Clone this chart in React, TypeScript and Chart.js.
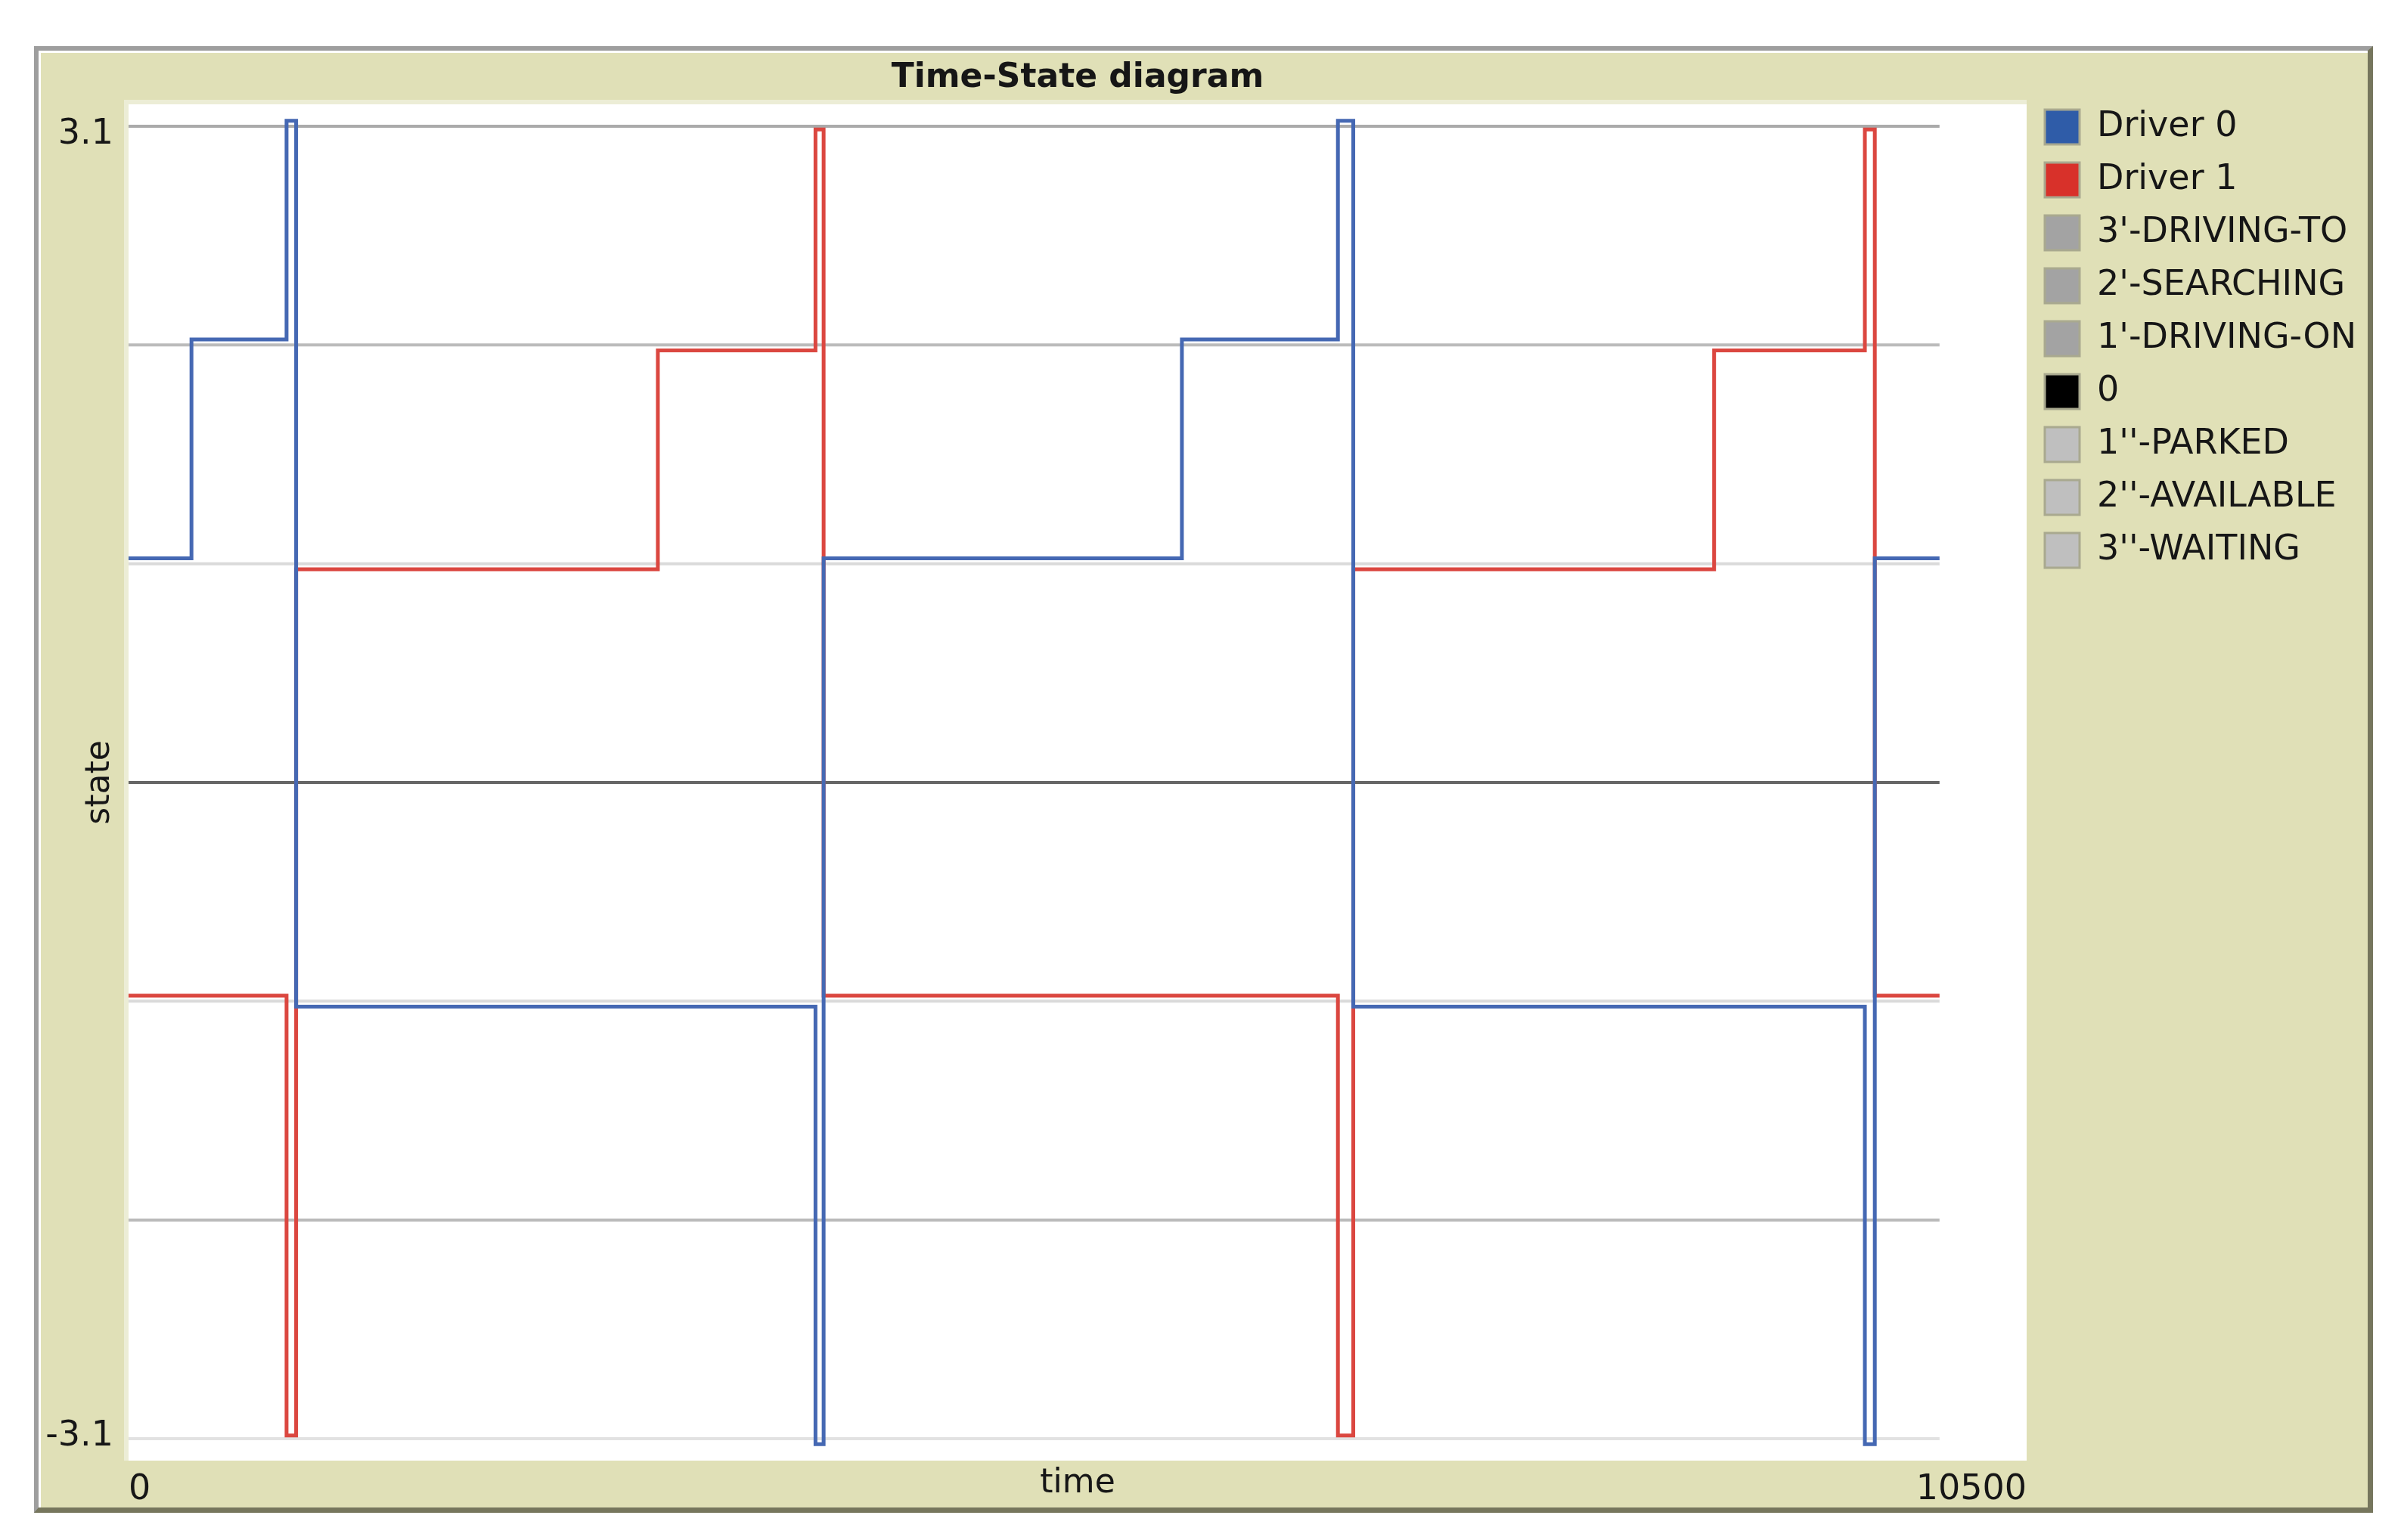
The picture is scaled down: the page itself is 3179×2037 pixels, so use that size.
import { useEffect, useRef } from 'react';
import { Chart, registerables } from 'chart.js';

Chart.register(...registerables);

// ---------- data ----------
const xRange = [0, 10500];
const yRange = [-3.1, 3.1];
const xTickValues = [0, 10500];
const yTickValues = [-3.1, 3.1];
const yTickLabels = ['-3.1', '3.1'];

const driverNames = ['Driver 0', 'Driver 1'];
const driver0Times = [0, 348, 874, 927, 3800, 3845, 5827, 6690, 6775, 9605, 9660, 10018];
const driver0States = [1.025, 2.025, 3.025, -1.025, -3.025, 1.025, 2.025, 3.025, -1.025, -3.025, 1.025, 1.025];
const driver1Times = [0, 874, 927, 2928, 3800, 3845, 6690, 6775, 8771, 9605, 9660, 10018];
const driver1States = [-0.975, -2.985, 0.975, 1.975, 2.985, -0.975, -2.985, 0.975, 1.975, 2.985, -0.975, -0.975];

const penNames = ["3'-DRIVING-TO", "2'-SEARCHING", "1'-DRIVING-ON", '0', "1''-PARKED", "2''-AVAILABLE", "3''-WAITING"];
const penLevels = [3, 2, 1, 0, -1, -2, -3];
const penTimes = [0, 10018];

// ---------- styles ----------
const FONT = "'DejaVu Sans', 'Liberation Sans', sans-serif";
const TEXT = '#161616';
const driverLineColors = ['#4568b3', '#db4740'];
const driverBoxColors = ['#2f5ca8', '#d8312a'];
const penLineColors = ['#aaaaaa', '#bbbbbb', '#dadada', '#666666', '#dadada', '#bbbbbb', '#e2e2e2'];
const penBoxColors = ['#a3a3a3', '#a3a3a3', '#a3a3a3', '#000000', '#bfbfbf', '#bfbfbf', '#bfbfbf'];
const legendBoxColors = [...driverBoxColors, ...penBoxColors];

const CANVAS_W = 3179;
const CANVAS_H = 2037;
const PLOT_RIGHT = 2680;
const LEGEND_FONT = 46;
const LEGEND_BOX = 46;
const LEGEND_PAD = 24;

const plotBackground = {
  id: 'plotBackground',
  beforeDraw(chart: any) {
    const { ctx, chartArea } = chart;
    const { left, top, right, bottom } = chartArea;
    ctx.save();
    ctx.fillStyle = '#ecedd6';
    ctx.fillRect(left - 6, top - 6, right - left + 6, bottom - top + 6);
    ctx.fillStyle = '#ffffff';
    ctx.fillRect(left, top, right - left, bottom - top);
    ctx.restore();
  },
};

function legendRightPadding(): number {
  const c = document.createElement('canvas');
  const ctx = c.getContext('2d')!;
  ctx.font = `${LEGEND_FONT}px ${FONT}`;
  const labels = [...driverNames, ...penNames];
  const maxW = Math.max(...labels.map((l) => ctx.measureText(l).width));
  const legendWidth = LEGEND_PAD + LEGEND_BOX + LEGEND_FONT / 2 + maxW + 10;
  return Math.max(0, CANVAS_W - PLOT_RIGHT - legendWidth);
}

function buildConfig(): any {
  const driverData = [
    driver0Times.map((t, i) => ({ x: t, y: driver0States[i] })),
    driver1Times.map((t, i) => ({ x: t, y: driver1States[i] })),
  ];
  const datasets: any[] = driverNames.map((name, i) => ({
    label: name,
    data: driverData[i],
    borderColor: driverLineColors[i],
    backgroundColor: driverBoxColors[i],
    borderWidth: 5,
    stepped: true,
    pointRadius: 0,
    pointHoverRadius: 0,
    order: 0,
  }));
  penNames.forEach((name, i) => {
    datasets.push({
      label: name,
      data: penTimes.map((t) => ({ x: t, y: penLevels[i] })),
      borderColor: penLineColors[i],
      backgroundColor: penBoxColors[i],
      borderWidth: 4,
      pointRadius: 0,
      pointHoverRadius: 0,
      order: 1,
    });
  });

  return {
    type: 'line',
    data: { datasets },
    plugins: [plotBackground],
    options: {
      responsive: false,
      animation: false,
      devicePixelRatio: 1,
      events: [],
      layout: { padding: { left: 0, top: 121, right: legendRightPadding(), bottom: 0 } },
      plugins: {
        title: {
          display: true,
          text: 'Time-State diagram',
          fullSize: false,
          color: TEXT,
          font: { family: FONT, size: 44, weight: 'bold', lineHeight: 1.2 },
          padding: { top: -43.4, bottom: 7.6 },
        },
        legend: {
          position: 'right',
          align: 'start',
          labels: {
            boxWidth: LEGEND_BOX,
            boxHeight: LEGEND_BOX,
            padding: LEGEND_PAD,
            color: TEXT,
            font: { family: FONT, size: LEGEND_FONT },
            generateLabels: (chart: any) => {
              const items = (Chart as any).defaults.plugins.legend.labels.generateLabels(chart);
              return items.map((it: any, i: number) => ({
                ...it,
                fillStyle: legendBoxColors[i],
                strokeStyle: '#a9a98f',
                lineWidth: 3,
              }));
            },
          },
        },
        tooltip: { enabled: false },
      },
      scales: {
        x: {
          type: 'linear',
          min: xRange[0],
          max: xRange[1],
          grid: { display: false },
          border: { display: false },
          afterBuildTicks: (scale: any) => {
            scale.ticks = xTickValues.map((v) => ({ value: v }));
          },
          afterFit: (scale: any) => {
            scale.height = 105;
          },
          ticks: {
            align: 'inner',
            padding: 3,
            maxRotation: 0,
            autoSkip: false,
            color: TEXT,
            font: { family: FONT, size: 46, lineHeight: 1.2 },
            callback: (v: any) => String(v),
          },
          title: {
            display: true,
            text: 'time',
            color: TEXT,
            font: { family: FONT, size: 44, lineHeight: 1.2 },
            padding: { top: 0, bottom: 47.6 },
          },
        },
        y: {
          type: 'linear',
          min: yRange[0],
          max: yRange[1],
          grid: { display: false },
          border: { display: false },
          afterBuildTicks: (scale: any) => {
            scale.ticks = yTickValues.map((v) => ({ value: v }));
          },
          afterFit: (scale: any) => {
            scale.width = 170;
          },
          ticks: {
            padding: 12,
            autoSkip: false,
            color: TEXT,
            font: (ctx: any) => ({
              family: FONT,
              size: 46,
              lineHeight: ctx.index === 0 ? '32px' : '40px',
            }),
            callback: (_v: any, index: number) =>
              index === 0 ? [yTickLabels[0], '', ''] : ['', '', yTickLabels[1]],
          },
          title: {
            display: true,
            text: 'state',
            color: TEXT,
            font: { family: FONT, size: 44, lineHeight: 1.2 },
            padding: { top: 106, bottom: 0 },
          },
        },
      },
    },
  };
}

export default function App() {
  const ref = useRef<HTMLCanvasElement>(null);
  useEffect(() => {
    if (!ref.current) return;
    const chart = new Chart(ref.current, buildConfig());
    return () => chart.destroy();
  }, []);
  return (
    <div style={{ position: 'absolute', left: 0, top: 0, width: CANVAS_W, height: CANVAS_H, background: '#ffffff', overflow: 'hidden' }}>
      <div
        style={{
          position: 'absolute',
          left: 45,
          top: 61,
          width: 3093,
          height: 1940,
          boxSizing: 'border-box',
          background: '#e0e0b7',
          borderTop: '6px solid #9e9e9e',
          borderLeft: '6px solid #9e9e9e',
          borderRight: '7px solid #76765d',
          borderBottom: '7px solid #76765d',
          boxShadow: 'inset 3px 3px 0 #ffffff',
        }}
      />
      <canvas
        ref={ref}
        width={CANVAS_W}
        height={CANVAS_H}
        style={{ position: 'absolute', left: 0, top: 0, width: CANVAS_W, height: CANVAS_H }}
      />
    </div>
  );
}
